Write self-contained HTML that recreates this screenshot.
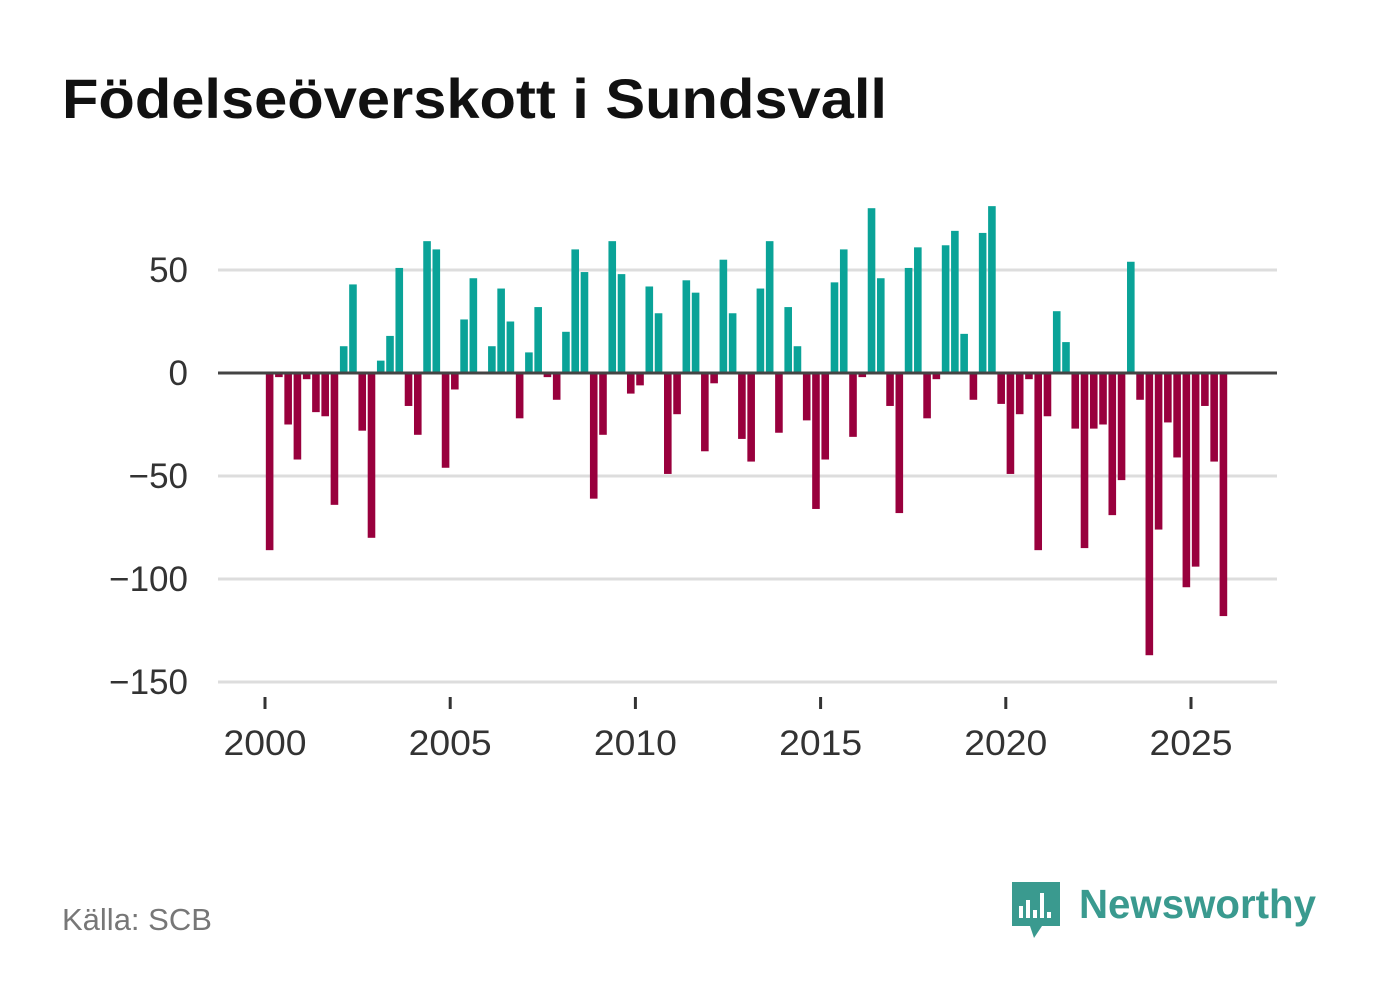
<!DOCTYPE html>
<html><head><meta charset="utf-8"><style>
body{margin:0;background:#fff;width:1382px;height:999px;overflow:hidden;font-family:"Liberation Sans",sans-serif}
</style></head><body>
<svg width="1382" height="999" xmlns="http://www.w3.org/2000/svg">
<text x="62" y="118" font-size="56" font-weight="bold" fill="#111" textLength="825" lengthAdjust="spacingAndGlyphs">Födelseöverskott i Sundsvall</text>
<g id="grid"></g><g id="bars"></g><g id="axes"></g>
<text x="62" y="930" font-size="31" fill="#777">Källa: SCB</text>
<g>
<path d="M1012 882 h48 v44 h-18 l-8 12 l-4 -12 h-18 z" fill="#3a9a8f"/>
<rect x="1019" y="906" width="4" height="12" fill="#fff"/><rect x="1026" y="900" width="4" height="18" fill="#fff"/><rect x="1033" y="910" width="4" height="8" fill="#fff"/><rect x="1040" y="893" width="4" height="25" fill="#fff"/><rect x="1047" y="912" width="4" height="6" fill="#fff"/>
<text x="1079" y="918" font-size="41" font-weight="bold" fill="#3a9a8f" textLength="237" lengthAdjust="spacingAndGlyphs">Newsworthy</text>
</g>
</svg>
<script>
const startYear = 2000;
const values = [-86,-2,-25,-42,-3,-19,-21,-64,13,43,-28,-80,6,18,51,-16,-30,64,60,-46,-8,26,46,0,13,41,25,-22,10,32,-2,-13,20,60,49,-61,-30,64,48,-10,-6,42,29,-49,-20,45,39,-38,-5,55,29,-32,-43,41,64,-29,32,13,-23,-66,-42,44,60,-31,-2,80,46,-16,-68,51,61,-22,-3,62,69,19,-13,68,81,-15,-49,-20,-3,-86,-21,30,15,-27,-85,-27,-25,-69,-52,54,-13,-137,-76,-24,-41,-104,-94,-16,-43,-118];
const yTicks = [50,0,-50,-100,-150];
const yTickLabels = ["50","0","\u221250","\u2212100","\u2212150"];
const xTicks = [2000,2005,2010,2015,2020,2025];
const NS="http://www.w3.org/2000/svg";
const x = t => 265 + (t-2000)*37.04;
const y = v => 373 - v*2.06;
function mk(tag, attrs, parent){const e=document.createElementNS(NS,tag);for(const k in attrs)e.setAttribute(k,attrs[k]);document.getElementById(parent).appendChild(e);return e;}
yTicks.forEach((v,i)=>{
  if(v!==0){const l=mk('line',{x1:218,x2:1277,y1:y(v),y2:y(v),stroke:'#ddd','stroke-width':3},'grid');
  
  }
  const t=mk('text',{x:188,y:y(v)+12,'font-size':35,fill:'#333','text-anchor':'end'},'axes');
  t.textContent=yTickLabels[i];
  
  
});
values.forEach((v,i)=>{
  const t=startYear+Math.floor(i/4)+((i%4)+0.5)/4;
  const r=mk('rect',{x:x(t)-3.8,width:7.6,y:Math.min(y(v),y(0)),height:Math.abs(y(v)-y(0)),fill:v>=0?'#0aa398':'#99003d'},'bars');
  
  
});
const z=mk('line',{x1:218,x2:1277,y1:y(0),y2:y(0),stroke:'#444','stroke-width':3},'axes');


xTicks.forEach(yr=>{
  const l=mk('line',{x1:x(yr),x2:x(yr),y1:697,y2:709,stroke:'#333','stroke-width':3},'axes');
  
  
  const t=mk('text',{x:x(yr),y:755,'font-size':35,fill:'#333','text-anchor':'middle','textLength':83,'lengthAdjust':'spacingAndGlyphs'},'axes');
  t.textContent=yr;
  
  
});
</script>
</body></html>
